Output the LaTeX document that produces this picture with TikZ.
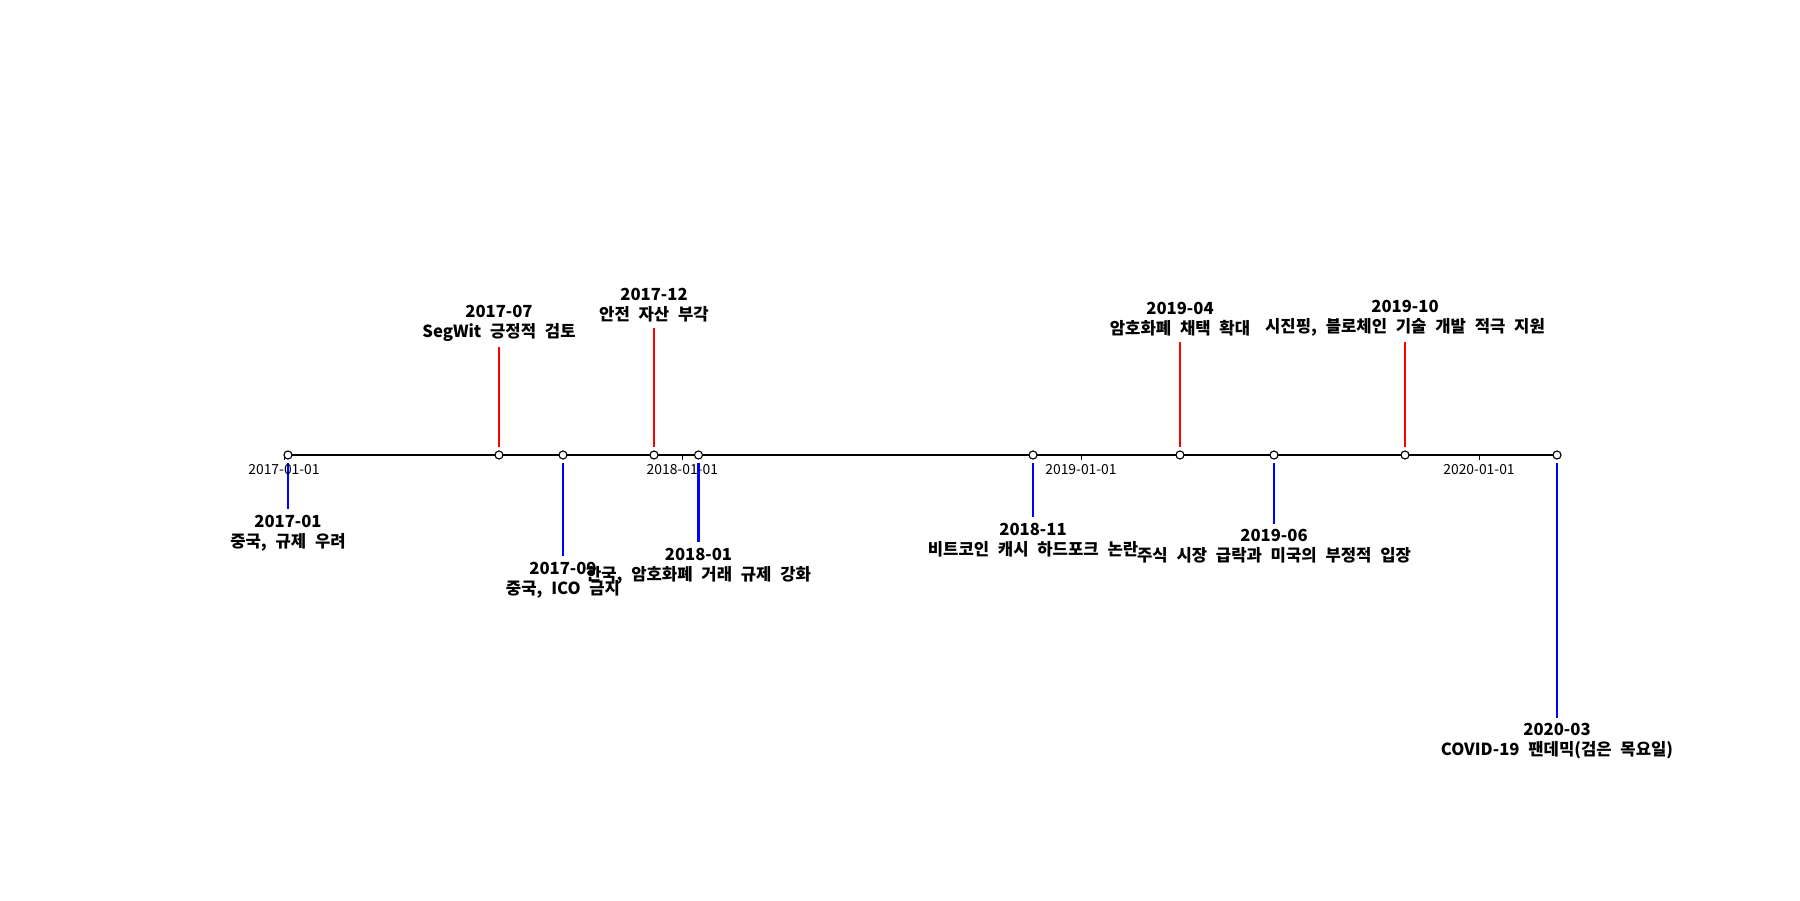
\documentclass[tikz,border=0pt]{standalone}
\usepackage{fontspec}
\newfontfamily\kofont{Noto Sans CJK KR}[WordSpace=2.3]
\usepackage{tikz}
\tikzset{
  evt/.style={circle, draw=black, fill=white, line width=0.8pt, minimum size=5.8pt, inner sep=0pt},
  axisline/.style={black, line width=1.6pt},
  stem/.style={line width=1.5pt, shorten <=5.8pt},
  lab/.style={font={\kofont\bfseries\fontsize{12}{14.4}\selectfont}, align=center, inner sep=4pt},
  ticklab/.style={font={\kofont\fontsize{10}{12}\selectfont}, inner sep=0pt, anchor=north},
}

\begin{document}
\begin{tikzpicture}[x=0.72pt, y=-0.72pt]
    \useasboundingbox (0,0) rectangle (1800,900);
    % events: name/x/end of stem/colour/anchor/date/text
    \foreach \n/\x/\y/\c/\a/\d/\t in {
        1/288/509/blue/north/2017-01/{중국, 규제 우려},
        2/499/347/red/south/2017-07/{SegWit 긍정적 검토},
        3/563/556/blue/north/2017-09/{중국, ICO 금지},
        4/654/328/red/south/2017-12/{안전 자산 부각},
        5/698.5/542/blue/north/2018-01/{한국, 암호화폐 거래 규제 강화},
        6/1033/517/blue/north/2018-11/{비트코인 캐시 하드포크 논란},
        7/1180/342/red/south/2019-04/{암호화폐 채택 확대},
        8/1274/523.5/blue/north/2019-06/{주식 시장 급락과 미국의 부정적 입장},
        9/1405/342/red/south/2019-10/{시진핑, 블로체인 기술 개발 적극 지원},
        10/1557/717.5/blue/north/2020-03/{COVID-19 팬데믹(검은 목요일)}}
    {
      \coordinate (p\n) at (\x,455);
      \node[lab, anchor=\a] (l\n) at (\x,\y) {\d\\\t};
      \draw[stem, \c] (p\n) -- (l\n);
    }
    \draw[axisline] (p1) -- (p10);
    % year ticks
    \foreach \x/\yr in {284/2017, 682.3/2018, 1081/2019, 1479/2020} {
      \coordinate (t\yr) at (\x,455);
      \draw[black, line width=0.6pt] (t\yr) -- ++(0,4.9) coordinate (tt\yr);
      \node[ticklab] (tl\yr) at ([yshift=-3.3pt]tt\yr) {\yr-01-01};
    }
    \foreach \n in {1,...,10}
      \node[evt] (m\n) at (p\n) {};
\end{tikzpicture}
\end{document}
